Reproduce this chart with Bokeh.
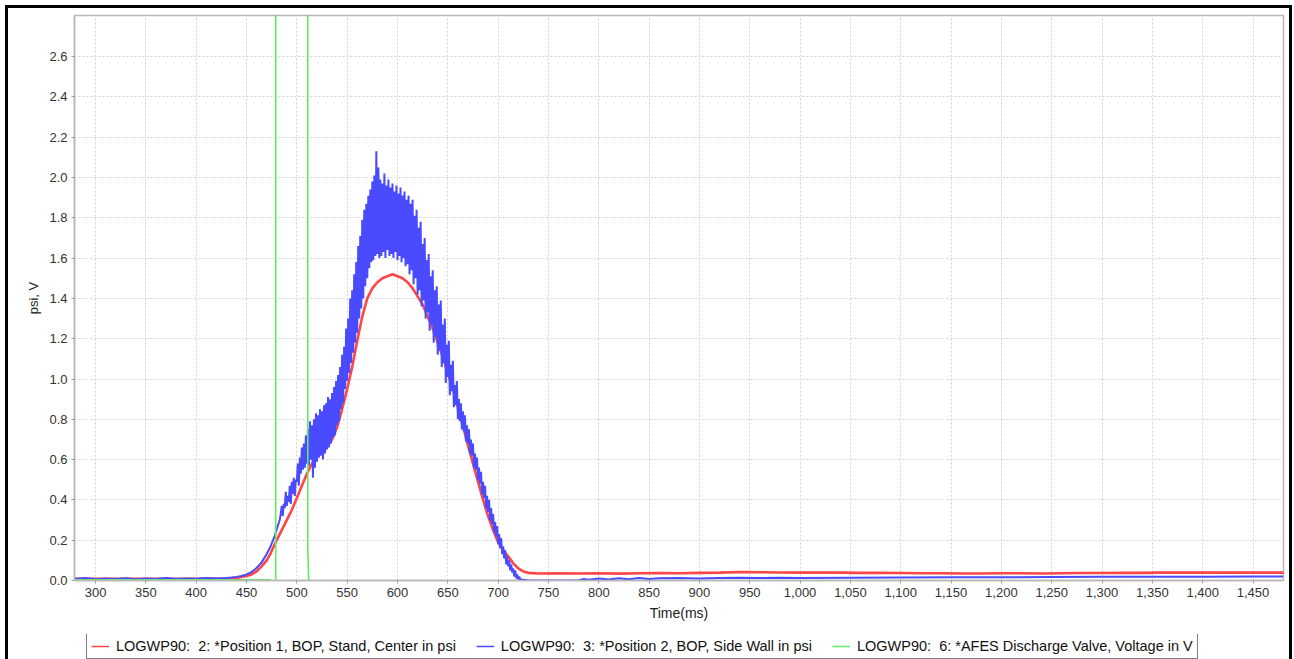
import math

from bokeh.plotting import figure
from bokeh.layouts import column
from bokeh.models import Range1d, FixedTicker, NumeralTickFormatter, Legend, LegendItem
from bokeh.embed import file_html
from bokeh.resources import INLINE

# ---------------------------------------------------------------------------
# Pressure / voltage records, time in ms
# ---------------------------------------------------------------------------

# Position 1 (red), smooth pressure trace in psi
red_t = [279, 300, 350, 400, 430, 440, 445, 450, 455, 460, 465, 470, 474, 478,
         482, 486, 490, 495, 500, 505, 510, 515, 520, 525, 530, 535, 540, 545,
         550, 555, 560, 565, 570, 575, 580, 585, 590, 595, 600, 605, 610, 615,
         620, 625, 630, 635, 640, 645, 650, 655, 660, 665, 670, 675, 680, 685,
         690, 695, 700, 705, 710, 715, 720, 725, 730, 740, 760, 780, 800, 820,
         840, 860, 880, 900, 920, 940, 960, 980, 1000, 1020, 1040, 1060, 1080,
         1100, 1120, 1140, 1160, 1180, 1200, 1220, 1240, 1260, 1280, 1300, 1320,
         1340, 1360, 1380, 1400, 1420, 1440, 1460, 1481]
red_v = [0.008, 0.008, 0.008, 0.008, 0.010, 0.013, 0.017, 0.022, 0.030, 0.045,
         0.070, 0.100, 0.135, 0.180, 0.220, 0.260, 0.300, 0.350, 0.410, 0.470,
         0.530, 0.580, 0.610, 0.635, 0.665, 0.700, 0.760, 0.850, 0.950, 1.060,
         1.190, 1.310, 1.400, 1.450, 1.480, 1.500, 1.510, 1.520, 1.510, 1.500,
         1.480, 1.450, 1.410, 1.370, 1.310, 1.250, 1.180, 1.110, 1.030, 0.950,
         0.860, 0.770, 0.670, 0.580, 0.490, 0.400, 0.320, 0.250, 0.190, 0.150,
         0.120, 0.085, 0.060, 0.045, 0.038, 0.035, 0.036, 0.035, 0.036, 0.034,
         0.036, 0.037, 0.036, 0.038, 0.039, 0.042, 0.041, 0.040, 0.039, 0.040,
         0.039, 0.038, 0.038, 0.037, 0.036, 0.036, 0.035, 0.035, 0.036, 0.036,
         0.035, 0.036, 0.037, 0.037, 0.038, 0.038, 0.039, 0.039, 0.040, 0.039,
         0.039, 0.039, 0.039]

# Position 2 (blue), noisy side-wall trace in psi
blue_pre_t = [279, 290, 300, 310, 320, 330, 340, 350, 360, 370, 380, 390, 400,
              410, 420, 430, 435, 440, 445, 450, 455, 460, 465, 470, 474, 478,
              481, 483]
blue_pre_v = [0.008, 0.012, 0.006, 0.010, 0.007, 0.011, 0.006, 0.010, 0.008,
              0.012, 0.007, 0.010, 0.009, 0.012, 0.010, 0.013, 0.015, 0.018,
              0.022, 0.030, 0.042, 0.062, 0.090, 0.130, 0.170, 0.220, 0.270,
              0.300]

# 1 ms samples from 484 ms to 723 ms
blue_burst_t = list(range(484, 724))
blue_burst_v = [
    0.33, 0.37, 0.32, 0.38,  0.36, 0.44, 0.37, 0.42,  0.39, 0.47, 0.38, 0.49,
    0.43, 0.51, 0.42, 0.50,  0.49, 0.58, 0.47, 0.61,  0.53, 0.66, 0.55, 0.68,
    0.56, 0.72, 0.58, 0.75,  0.57, 0.79, 0.60, 0.77,  0.51, 0.80, 0.56, 0.83,
    0.59, 0.82, 0.61, 0.85,  0.62, 0.84, 0.60, 0.87,  0.63, 0.88, 0.65, 0.91,
    0.66, 0.90, 0.68, 0.93,  0.71, 0.96, 0.72, 0.99,  0.77, 1.02, 0.79, 1.06,
    0.85, 1.12, 0.88, 1.16,  0.95, 1.25, 0.99, 1.30,  1.03, 1.40, 1.08, 1.44,
    1.13, 1.52, 1.18, 1.58,  1.23, 1.66, 1.30, 1.71,  1.35, 1.79, 1.40, 1.84,
    1.46, 1.87, 1.50, 1.91,  1.55, 1.94, 1.58, 1.98,  1.59, 2.01, 1.61, 2.13,
    1.62, 2.05, 1.60, 1.99,  1.61, 1.97, 1.63, 2.02,  1.60, 1.96, 1.64, 1.99,
    1.61, 1.95, 1.62, 1.97,  1.60, 1.93, 1.63, 1.96,  1.59, 1.92, 1.61, 1.95,
    1.58, 1.91, 1.60, 1.93,  1.56, 1.89, 1.57, 1.91,  1.52, 1.87, 1.54, 1.89,
    1.47, 1.81, 1.50, 1.84,  1.42, 1.75, 1.44, 1.78,  1.36, 1.67, 1.39, 1.70,
    1.30, 1.59, 1.33, 1.62,  1.24, 1.51, 1.27, 1.54,  1.18, 1.44, 1.21, 1.46,
    1.12, 1.37, 1.14, 1.39,  1.06, 1.27, 1.08, 1.30,  0.98, 1.17, 1.01, 1.19,
    0.92, 1.07, 0.94, 1.09,  0.86, 0.97, 0.87, 0.99,  0.80, 0.90, 0.79, 0.88,
    0.75, 0.84, 0.74, 0.82,  0.69, 0.77, 0.68, 0.75,  0.63, 0.70, 0.62, 0.68,
    0.56, 0.63, 0.55, 0.61,  0.50, 0.56, 0.48, 0.54,  0.43, 0.49, 0.41, 0.47,
    0.36, 0.42, 0.34, 0.40,  0.30, 0.36, 0.28, 0.33,  0.24, 0.29, 0.22, 0.27,
    0.18, 0.23, 0.16, 0.21,  0.13, 0.17, 0.11, 0.15,  0.08, 0.12, 0.07, 0.10,
    0.05, 0.08, 0.04, 0.06,  0.02, 0.05, 0.01, 0.03,  0.005, 0.02, 0.0, 0.005,
]

blue_post_t = [730, 760, 780, 785, 790, 800, 810, 820, 830, 840, 850, 860, 880,
               900, 920, 940, 960, 980, 1000, 1050, 1100, 1150, 1200, 1250,
               1300, 1350, 1400, 1450, 1480]
blue_post_v = [0.0, 0.0, 0.0, 0.008, 0.004, 0.010, 0.005, 0.011, 0.006, 0.012,
               0.007, 0.011, 0.012, 0.010, 0.013, 0.014, 0.012, 0.014, 0.013,
               0.014, 0.015, 0.016, 0.016, 0.017, 0.018, 0.019, 0.019, 0.020,
               0.020]

blue_t = blue_pre_t + blue_burst_t + blue_post_t
blue_v = blue_pre_v + blue_burst_v + blue_post_v

# Discharge valve (green), voltage in V; the open pulse runs far above the axis
nan = math.nan
green_t = [279, 474, nan, 479, 479, 510.7, 510.9, 511.8]
green_v = [0.004, 0.004, nan, 0.0, 9.0, 9.0, 0.15, 0.0]

x_ticks = [300, 350, 400, 450, 500, 550, 600, 650, 700, 750, 800, 850, 900, 950,
           1000, 1050, 1100, 1150, 1200, 1250, 1300, 1350, 1400, 1450]
y_ticks = [0.0, 0.2, 0.4, 0.6, 0.8, 1.0, 1.2, 1.4, 1.6, 1.8, 2.0, 2.2, 2.4, 2.6]

labels = [
    "LOGWP90:  2: *Position 1, BOP, Stand, Center in psi",
    "LOGWP90:  3: *Position 2, BOP, Side Wall in psi",
    "LOGWP90:  6: *AFES Discharge Valve, Voltage in V",
]

RED = "#ff4545"
BLUE = "#4a4aff"
GREEN = "#62ea62"
FONT = "Liberation Sans"

# ---------------------------------------------------------------------------
# Main chart
# ---------------------------------------------------------------------------
p = figure(width=1281, height=618, output_backend="svg", toolbar_location=None,
           x_range=Range1d(279.1, 1480.3), y_range=Range1d(0, 2.804),
           min_border_left=66, min_border_right=6, min_border_top=7,
           min_border_bottom=46,
           background_fill_color="white", border_fill_color="white")

p.line(red_t, red_v, line_color=RED, line_width=2.6)
p.line(blue_t, blue_v, line_color=BLUE, line_width=2.0)
p.line(green_t, green_v, line_color=GREEN, line_width=1.6)

p.outline_line_color = "#b8b8b8"
p.outline_line_width = 1.5

p.xaxis.ticker = FixedTicker(ticks=x_ticks)
p.xaxis.formatter = NumeralTickFormatter(format="0,0")
p.yaxis.ticker = FixedTicker(ticks=y_ticks)
p.yaxis.formatter = NumeralTickFormatter(format="0.0")

p.xaxis.axis_label = "Time(ms)"
p.yaxis.axis_label = "psi, V"

for ax in (p.xaxis[0], p.yaxis[0]):
    ax.axis_line_color = "#b8b8b8"
    ax.axis_line_width = 1.5
    ax.major_tick_line_color = "#a0a0a0"
    ax.major_tick_out = 3
    ax.major_tick_in = 0
    ax.minor_tick_line_color = None
    ax.major_label_text_font = FONT
    ax.major_label_text_font_size = "13px"
    ax.major_label_text_color = "#333333"
    ax.major_label_standoff = 4
    ax.axis_label_text_font = FONT
    ax.axis_label_text_font_style = "normal"
    ax.axis_label_text_color = "#222222"
    ax.axis_label_standoff = 5
p.xaxis.axis_label_text_font_size = "14px"
p.yaxis.axis_label_text_font_size = "13px"

p.grid.grid_line_color = "#d2d2d2"
p.grid.grid_line_dash = "2 2"
p.grid.grid_line_width = 1

# ---------------------------------------------------------------------------
# Legend strip below the chart (same borders so the column keeps both aligned;
# its ranges keep the series themselves out of view, only the key shows)
# ---------------------------------------------------------------------------
leg = figure(width=1281, height=33, output_backend="svg", toolbar_location=None,
             x_range=Range1d(0, 1), y_range=Range1d(0, 1),
             x_axis_type=None, y_axis_type=None,
             min_border_left=66, min_border_right=6, min_border_top=8,
             min_border_bottom=0, outline_line_color=None,
             background_fill_color="white", border_fill_color="white")
k_red = leg.line(red_t, red_v, line_color=RED, line_width=1.5)
k_blue = leg.line(blue_t, blue_v, line_color=BLUE, line_width=1.5)
k_green = leg.line(green_t, green_v, line_color=GREEN, line_width=1.5)

legend = Legend(
    items=[LegendItem(label=labels[0], renderers=[k_red]),
           LegendItem(label=labels[1], renderers=[k_blue]),
           LegendItem(label=labels[2], renderers=[k_green])],
    orientation="horizontal", location=(12, 0),
    border_line_color="black", border_line_width=1,
    label_text_font=FONT, label_text_font_size="14.5px", label_text_color="#111111",
    glyph_width=18, glyph_height=12, label_standoff=7, spacing=20,
    padding=4, margin=0, background_fill_color="white",
)
leg.add_layout(legend, "center")

page = column(p, leg, spacing=0,
              styles={"outline": "3px solid black",
                      "margin-left": "8px", "margin-top": "8px"})

open("out.html", "w").write(file_html(page, INLINE))
